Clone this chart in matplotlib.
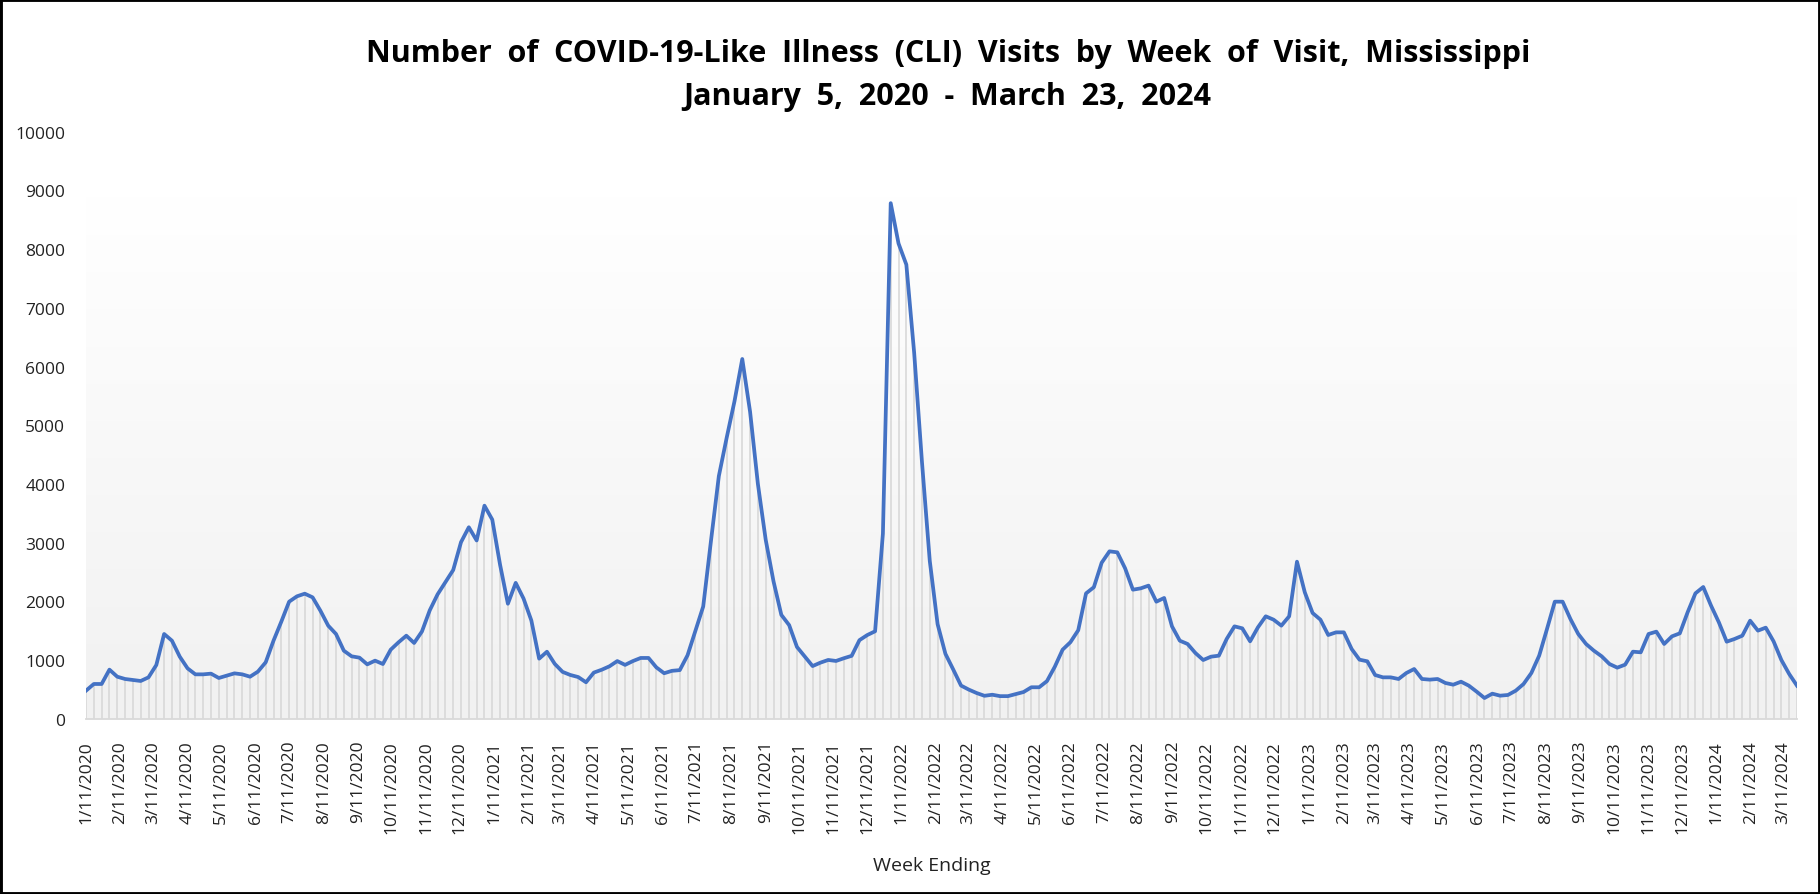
import numpy as np
import pandas as pd
import matplotlib
matplotlib.use("Agg")
import matplotlib.pyplot as plt
import matplotlib.dates as mdates
from matplotlib.colors import LinearSegmentedColormap
from matplotlib.patches import Rectangle

plt.rcParams['font.family'] = ['Open Sans', 'DejaVu Sans']

# Weekly CLI visits, week ending 1/11/2020 ... 3/23/2024
values = [
    482, 596, 596, 840, 720, 681, 664, 647, 709, 919,
    1447, 1333, 1061, 862, 760, 760, 772, 698, 738, 777,
    760, 720, 806, 965, 1333, 1657, 1997, 2088, 2133, 2071,
    1844, 1589, 1447, 1163, 1067, 1044, 930, 993, 936, 1180,
    1305, 1418, 1294, 1490, 1850, 2121, 2329, 2536, 3010, 3264,
    3039, 3631, 3394, 2625, 1962, 2317, 2051, 1678, 1027, 1145,
    938, 802, 749, 714, 625, 790, 838, 897, 986, 921,
    986, 1039, 1039, 879, 779, 820, 832, 1086, 1501, 1915,
    3039, 4134, 4785, 5406, 6128, 5229, 4000, 3050, 2342, 1772,
    1598, 1226, 1063, 901, 959, 1005, 988, 1034, 1075, 1342,
    1429, 1493, 3155, 8780, 8094, 7734, 6235, 4375, 2690, 1615,
    1110, 843, 569, 500, 442, 395, 413, 389, 389, 424,
    459, 540, 540, 645, 889, 1180, 1307, 1511, 2138, 2243,
    2660, 2854, 2837, 2565, 2201, 2224, 2270, 1997, 2060, 1577,
    1333, 1277, 1123, 1004, 1061, 1078, 1362, 1577, 1543, 1322,
    1560, 1748, 1691, 1589, 1748, 2678, 2156, 1804, 1691, 1430,
    1475, 1475, 1191, 1010, 982, 749, 709, 709, 681, 783,
    851, 681, 670, 681, 613, 584, 635, 567, 465, 357,
    431, 397, 409, 482, 596, 783, 1078, 1532, 1997, 1997,
    1702, 1447, 1277, 1163, 1067, 936, 874, 925, 1146, 1135,
    1447, 1487, 1277, 1407, 1458, 1816, 2139, 2247, 1929, 1645,
    1316, 1362, 1418, 1674, 1504, 1555, 1322, 1004, 766, 567,
]
first_week = '2020-01-11'
week_dates = pd.date_range(first_week, periods=len(values), freq='7D')

tick_dates = pd.date_range('2020-01-01', '2024-03-01', freq='MS') + pd.Timedelta(days=10)
tick_labels = [f"{d.month}/{d.day}/{d.year}" for d in tick_dates]
y_ticks = list(range(0, 10001, 1000))

title_1 = "Number  of  COVID-19-Like  Illness  (CLI)  Visits  by  Week  of  Visit,  Mississippi"
title_2 = "January  5,  2020  -  March  23,  2024"
x_title = "Week Ending"

W, H = 1820, 895
fig = plt.figure(figsize=(W / 100, H / 100), dpi=100)
ax = fig.add_axes([86 / W, (H - 720) / H, 1711 / W, 587.5 / H])

x = mdates.date2num(week_dates)

grad = LinearSegmentedColormap.from_list('g', ['#f1f1f1', '#ffffff'])
ax.imshow(np.linspace(1, 0, 256).reshape(-1, 1), extent=[x[0], x[-1], 0, 8885],
          aspect='auto', cmap=grad, vmin=0, vmax=1, zorder=0, interpolation='bicubic')

ax.vlines(x, 0, values, colors='#d6d6d6', linewidth=1.1, zorder=1)
ax.plot(x, values, color='#4472C4', linewidth=2.7, zorder=3, solid_joinstyle='round')

ax.set_xlim(x[0], x[-1])
ax.set_ylim(0, 10000)

for s in ['top', 'right', 'left']:
    ax.spines[s].set_visible(False)
ax.spines['bottom'].set_color('#d9d9d9')
ax.spines['bottom'].set_linewidth(1.3)

ax.set_xticks(mdates.date2num(tick_dates))
ax.set_xticklabels(tick_labels, rotation=90)
ax.set_yticks(y_ticks)
ax.set_yticklabels([str(v) for v in y_ticks])
ax.tick_params(axis='x', length=0, pad=15, labelsize=12.5, colors='#222222')
ax.tick_params(axis='y', length=0, pad=15, labelsize=12.5, colors='#222222')
ax.set_facecolor('white')

fig.text(947.7 / W, 1 - 54 / H, title_1, ha='center', va='center',
         fontsize=22, fontweight='bold', color='black')
fig.text(947.7 / W, 1 - 97 / H, title_2, ha='center', va='center',
         fontsize=22, fontweight='bold', color='black')
fig.text(932 / W, 1 - 866 / H, x_title, ha='center', va='center',
         fontsize=14, color='#222222')

fig.add_artist(Rectangle((0, 0), 1, 1, transform=fig.transFigure, fill=False,
                         edgecolor='black', linewidth=3.5))

fig.savefig('out.png', dpi=100)
